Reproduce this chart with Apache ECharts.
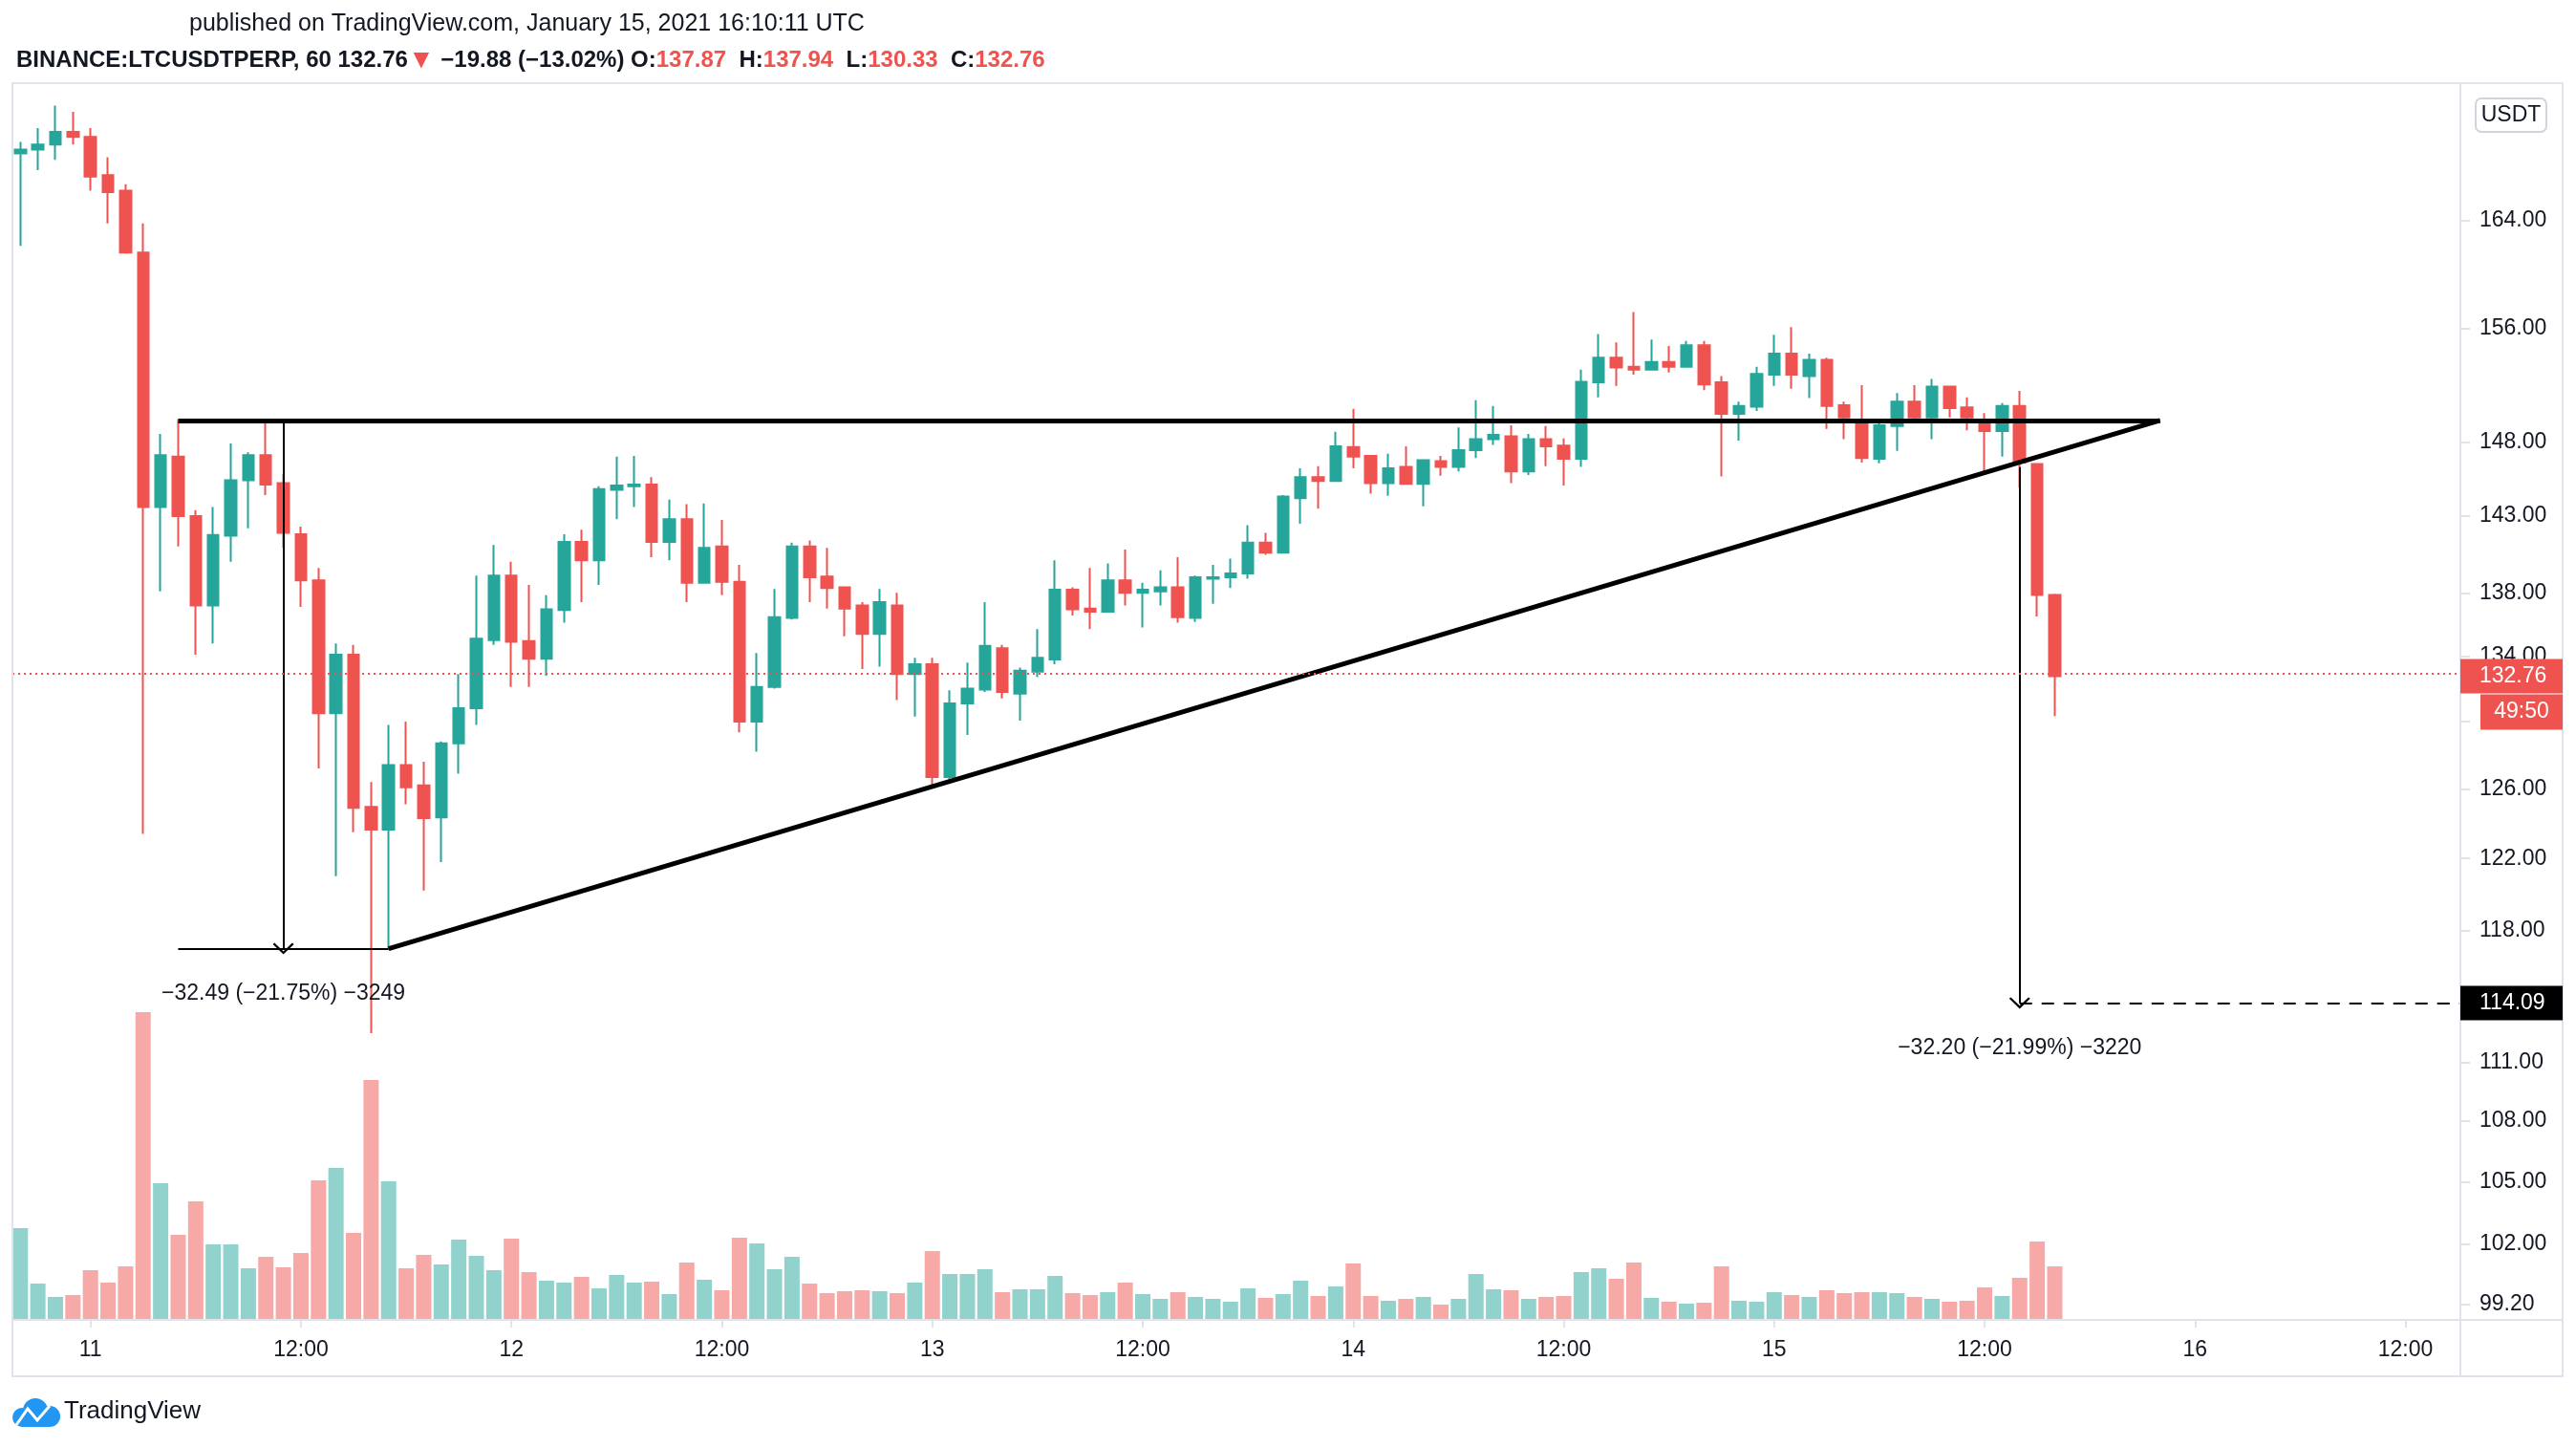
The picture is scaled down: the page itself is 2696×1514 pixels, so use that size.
<!DOCTYPE html>
<html>
<head>
<meta charset="utf-8">
<title>BINANCE:LTCUSDTPERP, 60</title>
<script src="https://cdn.jsdelivr.net/npm/echarts@6.0.0/dist/echarts.min.js"></script>
<style>
    html, body { margin: 0; padding: 0; background: #ffffff; }
    #chart { width: 2696px; height: 1514px; }
</style>
</head>
<body>
<div id="chart"></div>
<script type="text/javascript">

    // hourly candles, hour 0 = Jan 11 00:00 UTC, first candle is Jan 10 20:00
    var firstHour = -4;

    var opens = [
        169.2, 169.5, 169.9, 170.9, 170.5, 167.5, 166.3, 161.6, 143.6, 147.0, 143.0, 137.2,
        141.7, 145.4, 147.1, 145.2, 141.8, 138.8, 130.5, 134.1, 124.95, 123.65, 127.4, 126.2,
        124.35, 128.7, 130.8, 135.0, 139.1, 134.95, 133.85, 136.9, 141.3, 140.1, 144.75, 145.0,
        145.1, 141.3, 142.8, 138.65, 141.0, 138.7, 130.0, 132.1, 136.4, 141.0, 139.05, 138.35,
        137.2, 135.4, 137.2, 132.9, 133.5, 126.7, 131.1, 131.95, 134.5, 131.7, 133.05, 133.8,
        138.2, 137.0, 136.8, 138.8, 138.0, 138.1, 138.35, 136.4, 138.9, 139.0, 139.25, 141.25,
        140.6, 144.2, 145.6, 145.35, 147.65, 147.05, 145.2, 146.3, 145.15, 146.7, 146.3, 147.45,
        148.2, 148.4, 146.0, 148.2, 147.75, 146.85, 152.15, 153.9, 153.25, 153.05, 153.6, 153.25,
        154.8, 152.15, 149.95, 150.45, 152.7, 154.2, 152.6, 153.75, 150.55, 149.3, 146.85, 149.1,
        150.8, 149.7, 151.85, 150.4, 149.4, 148.75, 150.5, 146.5, 137.87
    ];
    var highs = [
        170.1, 171.2, 173.0, 172.5, 171.2, 168.9, 166.8, 163.8, 148.55, 149.55, 143.4, 143.6,
        147.9, 147.3, 149.4, 145.8, 142.3, 139.6, 134.8, 134.7, 126.4, 129.8, 130.0, 127.6,
        128.8, 132.9, 139.1, 141.1, 140.0, 138.5, 137.85, 141.8, 142.1, 145.0, 147.0, 147.05,
        145.6, 144.1, 143.8, 143.85, 142.75, 139.8, 134.2, 138.25, 141.25, 141.4, 140.9, 138.4,
        137.4, 138.25, 138.0, 133.9, 133.9, 131.9, 133.6, 137.4, 134.7, 133.3, 135.7, 140.1,
        138.35, 139.6, 139.9, 140.8, 138.65, 139.45, 140.3, 139.1, 139.8, 140.2, 142.4, 141.9,
        144.4, 146.2, 146.35, 148.7, 150.3, 147.1, 147.2, 147.7, 146.75, 147.05, 149.0, 150.9,
        150.5, 149.15, 148.55, 149.1, 148.25, 153.05, 155.6, 155.0, 157.2, 155.2, 154.75, 155.1,
        155.1, 152.6, 150.8, 153.25, 155.55, 156.1, 154.2, 153.9, 150.8, 151.95, 149.3, 151.4,
        151.95, 152.4, 151.9, 151.1, 150.0, 150.7, 151.55, 146.5, 137.94
    ];
    var lows = [
        162.1, 167.9, 168.7, 169.9, 166.3, 163.8, 161.5, 123.4, 138.1, 141.0, 134.1, 134.8,
        140.0, 142.2, 144.4, 140.9, 137.1, 127.2, 121.0, 123.5, 112.5, 117.0, 125.1, 120.2,
        121.8, 126.9, 129.8, 134.7, 132.1, 132.1, 132.8, 136.1, 137.4, 138.5, 142.8, 143.6,
        140.3, 140.1, 137.4, 138.6, 137.85, 129.35, 128.2, 132.0, 136.3, 137.4, 137.0, 135.25,
        133.2, 133.35, 131.3, 130.3, 126.2, 126.55, 129.2, 131.8, 131.4, 130.05, 132.7, 133.5,
        136.55, 135.7, 136.8, 137.2, 135.8, 137.2, 136.1, 136.15, 137.3, 138.3, 138.9, 140.45,
        140.55, 142.5, 143.5, 145.3, 146.2, 144.5, 144.35, 145.1, 143.65, 145.7, 146.0, 146.9,
        147.8, 145.2, 145.75, 146.35, 145.05, 146.3, 151.1, 151.9, 152.7, 153.05, 152.85, 153.25,
        151.6, 145.65, 148.1, 150.15, 151.9, 151.7, 151.05, 148.9, 148.2, 146.6, 146.55, 147.4,
        149.5, 148.2, 149.7, 148.8, 146.0, 147.0, 144.9, 136.5, 130.33
    ];
    var closes = [
        169.5, 169.9, 170.9, 170.5, 167.4, 166.2, 161.6, 143.6, 147.1, 143.0, 137.2, 141.75,
        145.4, 147.1, 145.1, 141.9, 138.8, 130.5, 134.1, 124.9, 123.65, 127.4, 126.1, 124.3,
        128.7, 130.8, 135.1, 139.1, 134.9, 133.85, 136.95, 141.3, 140.1, 144.8, 145.05, 145.1,
        141.3, 142.8, 138.65, 140.9, 138.7, 130.0, 132.1, 136.45, 141.0, 139.0, 138.3, 137.0,
        135.4, 137.4, 132.9, 133.5, 126.7, 131.1, 132.0, 134.65, 131.8, 133.1, 133.9, 138.2,
        136.95, 136.8, 138.8, 138.0, 138.2, 138.35, 136.45, 139.0, 139.0, 139.25, 141.25, 140.6,
        144.3, 145.6, 145.35, 147.7, 147.0, 145.2, 146.2, 145.15, 146.75, 146.3, 147.45, 148.2,
        148.5, 146.0, 148.2, 147.7, 146.85, 152.2, 153.9, 153.2, 153.05, 153.6, 153.25, 154.8,
        152.0, 149.95, 150.5, 152.75, 154.2, 152.7, 153.75, 150.5, 149.7, 146.9, 149.15, 150.8,
        149.7, 151.85, 150.35, 149.7, 148.75, 150.5, 146.6, 137.87, 132.76
    ];
    var volumes = [
        96, 38, 24, 26, 52, 39, 56, 322, 143, 89, 124, 79,
        79, 54, 66, 55, 70, 146, 159, 91, 251, 145, 54, 68,
        58, 84, 67, 52, 85, 50, 41, 39, 45, 33, 47, 39,
        40, 27, 60, 42, 31, 86, 80, 53, 66, 38, 28, 30,
        31, 30, 28, 39, 72, 48, 48, 53, 29, 32, 32, 46,
        28, 26, 29, 39, 27, 22, 29, 24, 22, 19, 33, 23,
        27, 41, 25, 35, 59, 25, 20, 22, 24, 16, 22, 48,
        32, 31, 22, 24, 25, 50, 54, 43, 60, 23, 19, 17,
        18, 56, 20, 19, 29, 26, 24, 31, 28, 29, 29, 28,
        24, 22, 19, 20, 34, 25, 44, 82, 56
    ];

    var priceTicks = [164, 156, 148, 143, 138, 134, 130, 126, 122, 118, 114, 111, 108, 105, 102, 99.2];
    var timeTicks = [0, 12, 24, 36, 48, 60, 72, 84, 96, 108, 120, 132];
    var timeLabels = ['11', '12:00', '12', '12:00', '13', '12:00', '14', '12:00', '15', '12:00', '16', '12:00'];

    // visible range of the pane
    var hourMin = -4.451, hourMax = 135.13;
    var priceMin = 98.49, priceMax = 174.81;
    var volumeAxisMax = 1294;

    // drawings on the chart
    var resistance = 149.49;
    var triangleStart = 5;
    var trendStart = [17, 117.0];
    var apexHour = 118;
    var measure1 = {hour: 11, from: 149.49, to: 117.0, text: '−32.49 (−21.75%) −3249'};
    var measure2 = {hour: 110, from: 146.29, to: 114.09, text: '−32.20 (−21.99%) −3220'};
    var countdown = '49:50';
    var headerSymbol = 'BINANCE:LTCUSDTPERP, 60';
    var headerChange = '−19.88 (−13.02%)';

    var FONT = '"Liberation Sans", Arial, sans-serif';
    var UP = '#26a69a', DOWN = '#ef5350', INK = '#131722', FRAME = '#e0e3eb';
    var L = Math.log;

    var candleData = [];
    var volData = [];
    for (var i = 0; i < opens.length; i++) {
        var h = firstHour + i;
        candleData.push([h, L(opens[i]), L(closes[i]), L(lows[i]), L(highs[i])]);
        volData.push({
            value: [h, volumes[i]],
            itemStyle: {color: closes[i] >= opens[i] ? 'rgba(38,166,154,0.5)' : 'rgba(239,83,80,0.5)'}
        });
    }
    var last = opens.length - 1;
    var lastPrice = closes[last];

    var thick = {color: '#000', width: 5, type: 'solid'};
    var thin = {color: '#000', width: 2, type: 'solid'};
    var arrowPath = 'path://M0,10 L10,0 L20,10 L18.4,11.4 L10,3 L1.6,11.4 Z';

    function measureLabel(text) {
        return {show: true, position: 'end', distance: 36, formatter: text,
            fontSize: 23, fontFamily: FONT, color: INK};
    }

    var headerText = '{b|' + headerSymbol + '} {n|' + lastPrice.toFixed(2) + '}{t|▼} {n|' + headerChange + '} ' +
        '{b|O:}{r|' + opens[last].toFixed(2) + '}  {b|H:}{r|' + highs[last].toFixed(2) + '}  ' +
        '{b|L:}{r|' + lows[last].toFixed(2) + '}  {b|C:}{r|' + closes[last].toFixed(2) + '}';

    var option = {
        animation: false,
        backgroundColor: '#ffffff',
        textStyle: {fontFamily: FONT},
        title: [
            {
                text: 'published on TradingView.com, January 15, 2021 16:10:11 UTC',
                left: 193, top: 8,
                textStyle: {fontSize: 25, fontWeight: 'normal', color: INK, fontFamily: FONT}
            },
            {
                text: headerText,
                left: 12, top: 44,
                textStyle: {
                    fontSize: 24, fontFamily: FONT,
                    rich: {
                        b: {fontSize: 24, fontWeight: 'bold', color: INK, fontFamily: FONT},
                        n: {fontSize: 24, color: INK, fontFamily: FONT},
                        r: {fontSize: 24, color: DOWN, fontFamily: FONT},
                        t: {fontSize: 28, color: DOWN, fontFamily: FONT}
                    }
                }
            }
        ],
        grid: {left: 13, right: 121, top: 87, bottom: 133},
        xAxis: {
            type: 'value',
            min: hourMin,
            max: hourMax,
            axisLine: {show: false, onZero: false},
            splitLine: {show: false},
            axisTick: {show: true, customValues: timeTicks, length: 8, lineStyle: {color: FRAME, width: 2}},
            axisLabel: {
                customValues: timeTicks,
                formatter: function (v) { return timeLabels[timeTicks.indexOf(v)]; },
                margin: 20, fontSize: 23, color: INK, fontFamily: FONT
            }
        },
        yAxis: [
            {
                type: 'value',
                position: 'right',
                min: L(priceMin),
                max: L(priceMax),
                axisLine: {show: false, onZero: false},
                splitLine: {show: false},
                axisTick: {show: true, customValues: priceTicks.map(L), length: 10, lineStyle: {color: FRAME, width: 2}},
                axisLabel: {
                    customValues: priceTicks.map(L),
                    formatter: function (v) { return Math.exp(v).toFixed(2); },
                    margin: 20, fontSize: 23, color: INK, fontFamily: FONT
                }
            },
            {type: 'value', min: 0, max: volumeAxisMax, show: false, axisLine: {onZero: false}}
        ],
        series: [
            {
                type: 'bar',
                yAxisIndex: 1,
                data: volData,
                barWidth: 16,
                z: 1,
                silent: true
            },
            {
                type: 'candlestick',
                data: candleData,
                encode: {x: 0, y: [1, 2, 3, 4]},
                barWidth: 12,
                z: 3,
                silent: true,
                itemStyle: {color: UP, color0: DOWN, borderColor: UP, borderColor0: DOWN, borderWidth: 2},
                markLine: {
                    silent: true,
                    animation: false,
                    symbol: ['none', 'none'],
                    label: {show: false},
                    lineStyle: {type: 'solid'},
                    data: [
                        [{coord: [triangleStart, L(resistance)], lineStyle: thick}, {coord: [apexHour, L(resistance)]}],
                        [{coord: [trendStart[0], L(trendStart[1])], lineStyle: thick}, {coord: [apexHour, L(resistance)]}],
                        [{coord: [triangleStart, L(measure1.to)], lineStyle: thin}, {coord: [trendStart[0], L(measure1.to)]}],
                        [{coord: [measure1.hour, L(measure1.from)], lineStyle: thin, label: measureLabel(measure1.text)},
                         {coord: [measure1.hour, L(measure1.to)], symbol: arrowPath, symbolSize: [22, 12], itemStyle: {color: '#000'}}],
                        [{coord: [measure2.hour, L(measure2.from)], lineStyle: thin, label: measureLabel(measure2.text)},
                         {coord: [measure2.hour, L(measure2.to)], symbol: arrowPath, symbolSize: [22, 12], itemStyle: {color: '#000'}}],
                        [{coord: [measure2.hour, L(measure2.to)], lineStyle: {color: '#000', width: 2, type: [13, 10]}},
                         {coord: [hourMax, L(measure2.to)]}],
                        {yAxis: L(lastPrice), lineStyle: {color: DOWN, width: 2, type: [2, 4]}}
                    ]
                }
            }
        ]
    };

    var chart = echarts.init(document.getElementById('chart'));
    chart.setOption(option);

    function boxText(text, x, y, color, align) {
        return {
            type: 'text', z: 101, silent: true,
            style: {text: text, x: x, y: y, fill: color, fontSize: 23, fontFamily: FONT,
                align: align, verticalAlign: 'middle', textAlign: align, textVerticalAlign: 'middle'}
        };
    }

    function buildOverlay() {
        var yLast = chart.convertToPixel({yAxisIndex: 0}, L(lastPrice));
        var yTarget = chart.convertToPixel({yAxisIndex: 0}, L(measure2.to));
        return [
            {type: 'rect', silent: true, z: 50, shape: {x: 13, y: 87, width: 2669, height: 1353},
                style: {fill: 'none', stroke: FRAME, lineWidth: 2}},
            {type: 'line', silent: true, z: 50, shape: {x1: 13, y1: 1381, x2: 2682, y2: 1381},
                style: {stroke: FRAME, lineWidth: 2}},
            {type: 'line', silent: true, z: 50, shape: {x1: 2575, y1: 87, x2: 2575, y2: 1440},
                style: {stroke: FRAME, lineWidth: 2}},
            // currency badge
            {type: 'rect', silent: true, z: 100, shape: {x: 2591, y: 103, width: 74, height: 35, r: 6},
                style: {fill: '#fff', stroke: '#d1d4dc', lineWidth: 2}},
            boxText('USDT', 2628, 121, INK, 'center'),
            // last price + countdown
            {type: 'rect', silent: true, z: 100, shape: {x: 2575, y: yLast - 18, width: 107, height: 36},
                style: {fill: DOWN}},
            boxText(lastPrice.toFixed(2), 2595, yLast, '#fff', 'left'),
            {type: 'rect', silent: true, z: 100, shape: {x: 2596, y: yLast + 19, width: 86, height: 37},
                style: {fill: DOWN}},
            boxText(countdown, 2639, yLast + 37.5, '#fff', 'center'),
            // target price
            {type: 'rect', silent: true, z: 100, shape: {x: 2575, y: yTarget - 18, width: 107, height: 36},
                style: {fill: '#000'}},
            boxText(measure2.to.toFixed(2), 2595, yTarget, '#fff', 'left'),
            // TradingView logo
            {type: 'circle', silent: true, z: 100, shape: {cx: 23, cy: 1483, r: 10}, style: {fill: '#2196f3'}},
            {type: 'circle', silent: true, z: 100, shape: {cx: 37, cy: 1476, r: 13}, style: {fill: '#2196f3'}},
            {type: 'circle', silent: true, z: 100, shape: {cx: 52, cy: 1482, r: 11}, style: {fill: '#2196f3'}},
            {type: 'rect', silent: true, z: 100, shape: {x: 23, y: 1478, width: 29, height: 15}, style: {fill: '#2196f3'}},
            {type: 'polyline', silent: true, z: 101, shape: {points: [[17, 1491], [29, 1474], [39, 1486], [52, 1471]]},
                style: {stroke: '#fff', lineWidth: 3, fill: 'none'}},
            {
                type: 'text', z: 100, silent: true,
                style: {text: 'TradingView', x: 67, y: 1477, fill: INK, fontSize: 26, fontFamily: FONT,
                    align: 'left', verticalAlign: 'middle', textAlign: 'left', textVerticalAlign: 'middle'}
            }
        ];
    }

    chart.setOption({graphic: buildOverlay()});
</script>
</body>
</html>
